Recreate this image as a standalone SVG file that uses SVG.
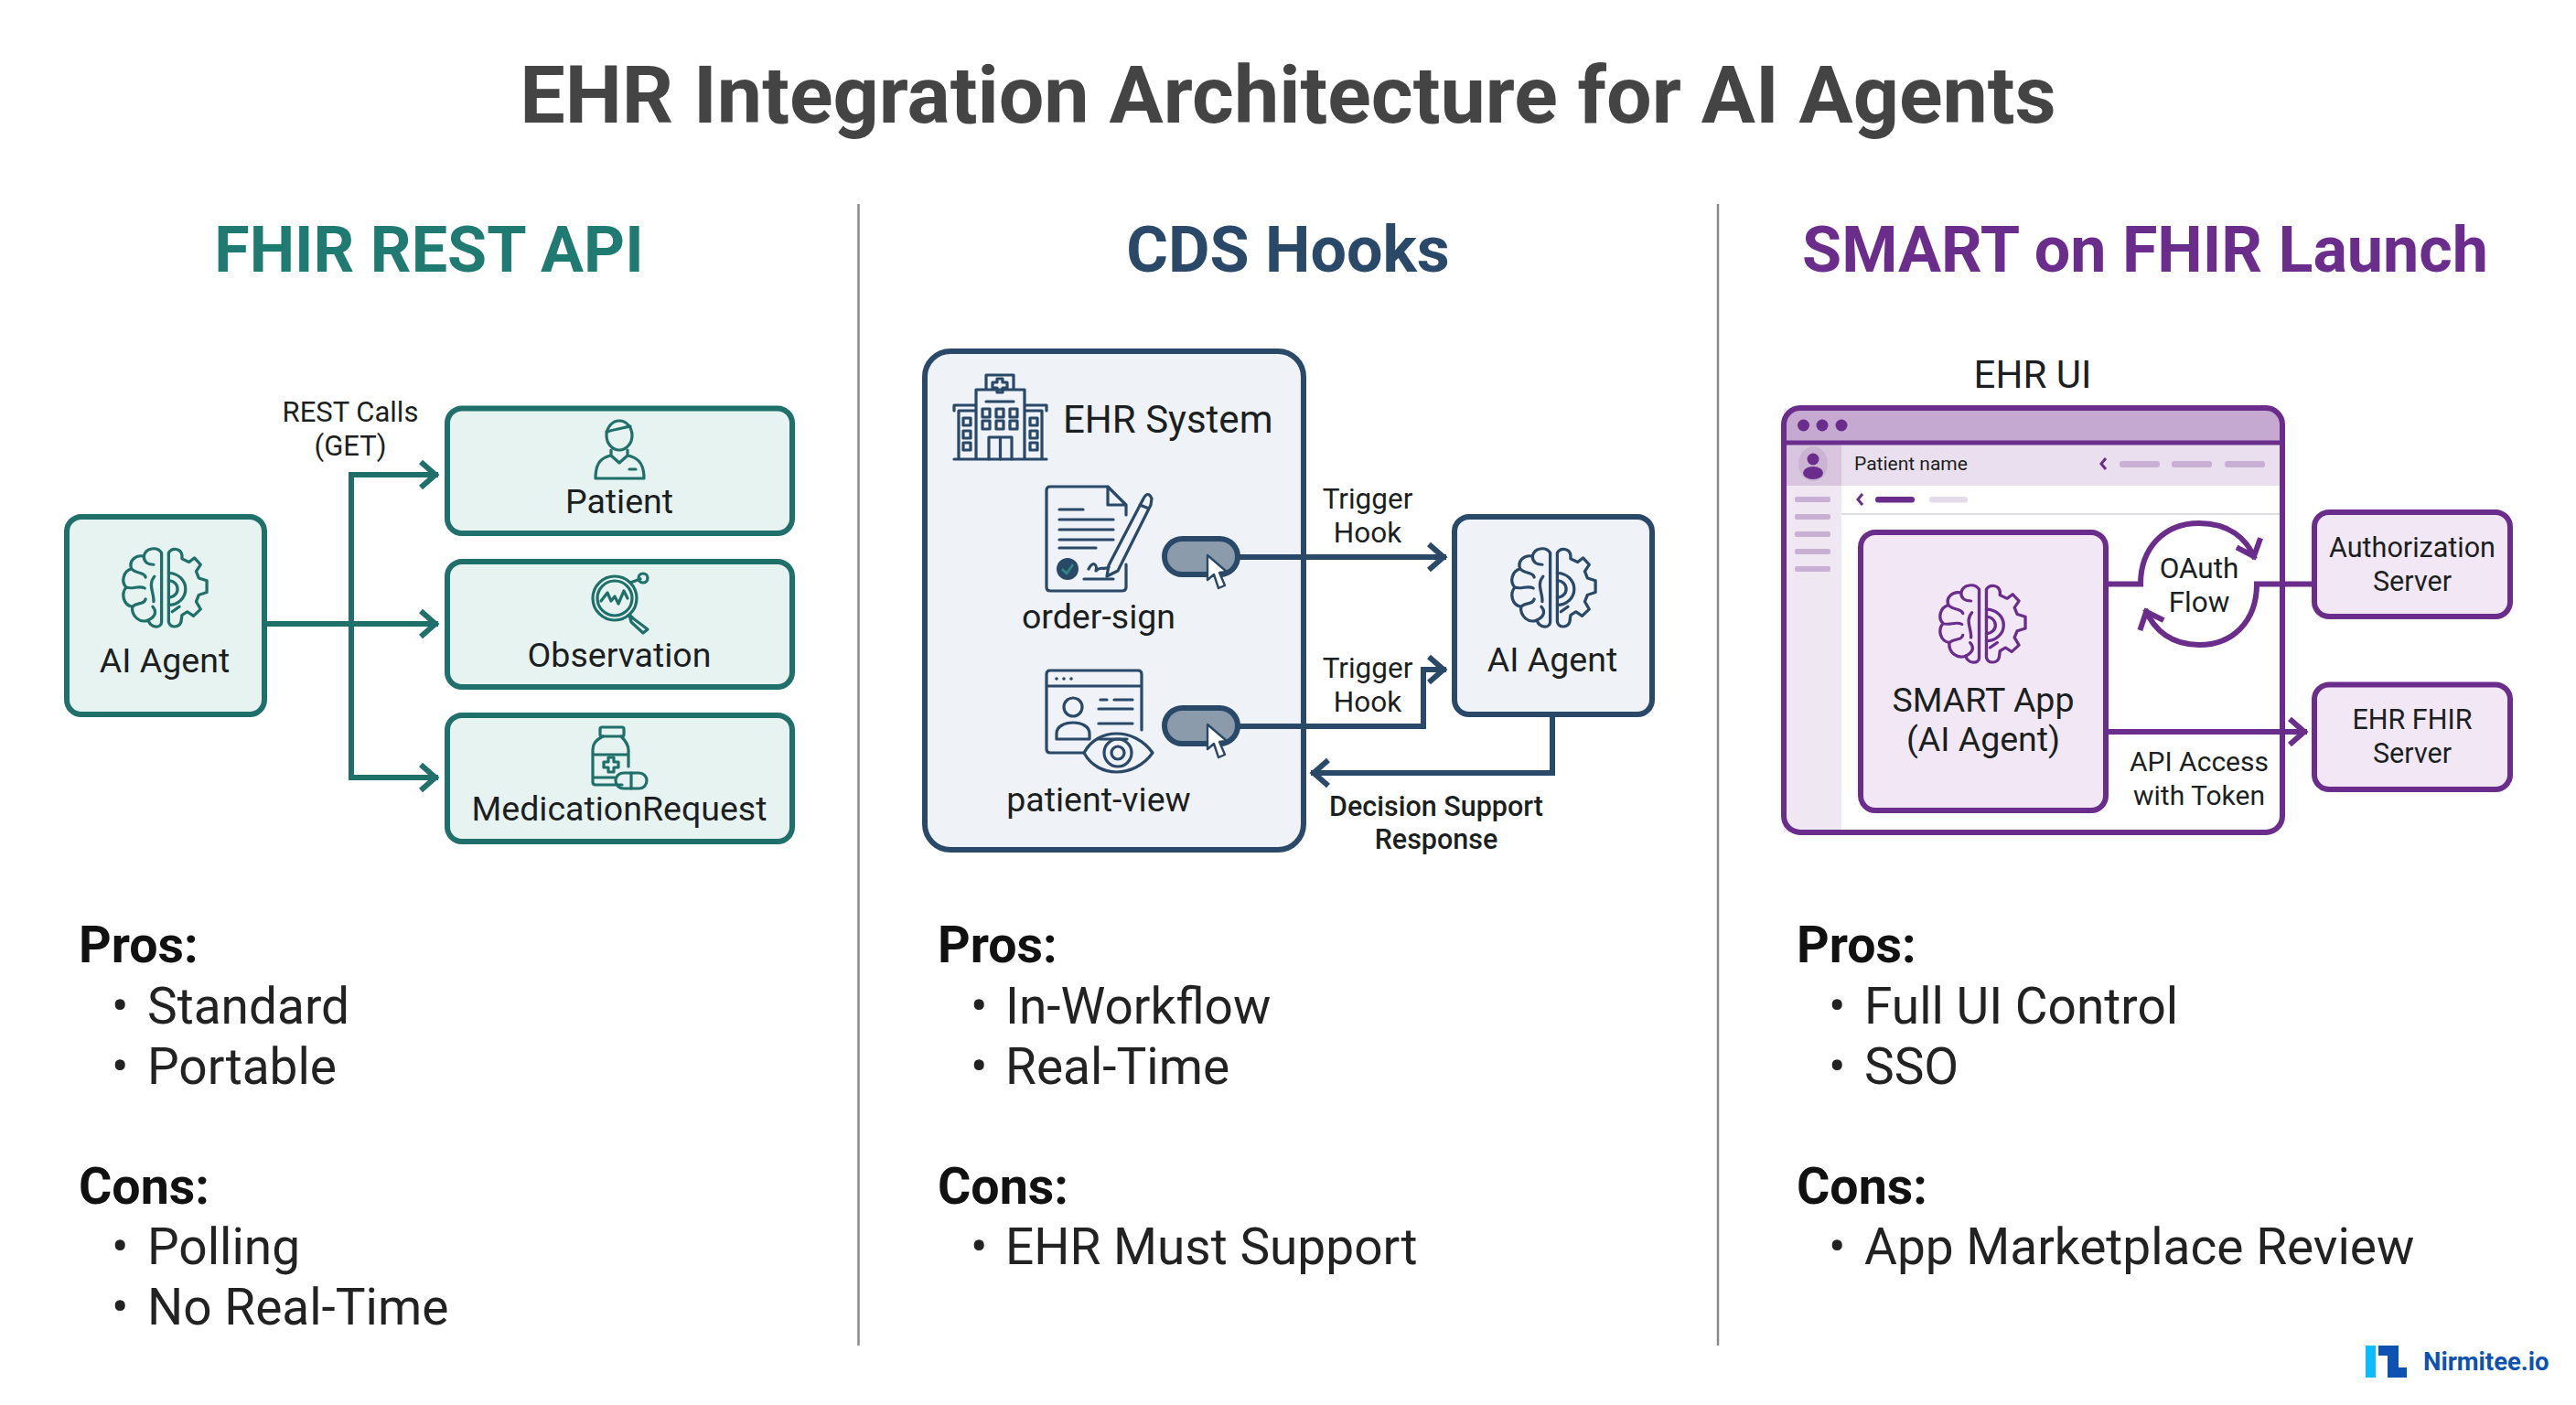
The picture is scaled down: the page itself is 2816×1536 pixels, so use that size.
<svg xmlns="http://www.w3.org/2000/svg" width="2816" height="1536" viewBox="0 0 2816 1536">
<style>
text{font-family:Roboto,"Liberation Sans",sans-serif;fill:#1c1f22}
.title{font-size:88px;font-weight:700;fill:#444;text-anchor:middle}
.head{font-size:70px;font-weight:700;text-anchor:middle}
.pc{font-size:55.500px;font-weight:700;fill:#111}
.li{font-size:55px;fill:#222}
.n{font-size:37.500px;text-anchor:middle}
.s{font-size:31.500px;text-anchor:middle}
.sb{font-size:30.500px;text-anchor:middle;font-weight:500}
.teal{fill:#e7f3f1;stroke:#1f6f6b;stroke-width:6}
.navy{fill:#eff2f6;stroke:#2a4868;stroke-width:6}
.pur{fill:#f2e8f5;stroke:#6b2d8b;stroke-width:6}
.ic{fill:none;stroke-width:3.2;stroke-linejoin:round;stroke-linecap:round}
.ct{fill:none;stroke:#1f6f6b;stroke-width:6;marker-end:url(#at)}
.cn{fill:none;stroke:#2a4868;stroke-width:6;marker-end:url(#an)}
.cp{fill:none;stroke:#6b2d8b;stroke-width:6;marker-end:url(#ap)}
</style>
<defs>
<marker id="at" markerUnits="userSpaceOnUse" markerWidth="40" markerHeight="44" refX="31" refY="22" orient="auto"><path d="M12,8 L28,22 L12,36" fill="none" stroke="#1f6f6b" stroke-width="6"/></marker>
<marker id="an" markerUnits="userSpaceOnUse" markerWidth="40" markerHeight="44" refX="31" refY="22" orient="auto"><path d="M12,8 L28,22 L12,36" fill="none" stroke="#2a4868" stroke-width="6"/></marker>
<marker id="ap" markerUnits="userSpaceOnUse" markerWidth="40" markerHeight="44" refX="31" refY="22" orient="auto"><path d="M12,8 L28,22 L12,36" fill="none" stroke="#6b2d8b" stroke-width="6"/></marker>
<symbol id="brain" viewBox="0 0 100 100" preserveAspectRatio="none" overflow="visible">
<g fill="none" stroke="currentColor" stroke-width="3.4" stroke-linejoin="round" stroke-linecap="round">
<path d="M46,8 C41,0 28,2 26,12 C16,10 9,18 12,27 C3,30 0,42 6,49 C0,57 3,70 13,72 C12,84 22,92 31,88 C34,98 46,98 46,90 Z"/>
<path d="M26,12 C26,20 32,22 37,22 M12,27 C18,34 26,30 28,37 M6,49 C14,52 20,46 27,50 M38,36 C30,46 38,56 37,66 M13,72 C20,66 26,70 28,63 M31,88 C39,84 41,78 36,72"/>
<path d="M54,8 C58,1 68,3 69,11 L69,15 L77,19 L83,14 L90,22 L85,30 L88,38 L97,41 L97,55 L88,58 L85,66 L90,75 L82,83 L75,78 L69,82 L68,90 C66,97 56,98 54,90 Z"/>
<path d="M54,32 A19,19 0 0 1 54,70 M54,41 A10,10 0 0 1 54,61 M58,78 L66,72"/>
</g></symbol>
<symbol id="cursor" viewBox="0 0 22 40" overflow="visible"><path d="M1,1 L1,28 L8,22 L13,37 L20,34 L14,20 L22,19 Z" fill="#fff" stroke="#2a4868" stroke-width="2.4" stroke-linejoin="round"/></symbol>
</defs>
<rect width="2816" height="1536" fill="#fff"/>
<text class="title" x="1408" y="134">EHR Integration Architecture for AI Agents</text>
<text class="head" x="469" y="297" style="fill:#1f7a72">FHIR REST API</text>
<text class="head" x="1408" y="297" style="fill:#2a4868">CDS Hooks</text>
<text class="head" x="2345" y="297" style="fill:#6b2d8b">SMART on FHIR Launch</text>
<g id="dividers" stroke="#8a8a8a" stroke-width="2.5"><line x1="938.500" y1="223" x2="938.500" y2="1471"/><line x1="1878" y1="223" x2="1878" y2="1471"/></g>

<g id="panel2-ehr-base"><rect class="navy" x="1011" y="384" width="414" height="545" rx="28"/></g>
<g id="panel3-window">
<rect x="1950" y="446" width="545" height="464" rx="18" fill="#fff"/>
<rect x="1950" y="446" width="63" height="464" fill="#efe7f2"/>
<path d="M1950,482 V464 a18,18 0 0 1 18,-18 H2477 a18,18 0 0 1 18,18 V482 Z" fill="#c5a9d0"/>
<rect x="1950" y="485" width="545" height="46" fill="#eadfee"/>
<rect x="1950" y="485" width="63" height="46" fill="#d8c6de"/>
<g fill="#6b2d8b"><circle cx="1971.500" cy="465" r="6.500"/><circle cx="1992" cy="465" r="6.500"/><circle cx="2013" cy="465" r="6.500"/></g>
<line x1="1950" y1="484" x2="2495" y2="484" stroke="#6b2d8b" stroke-width="5"/>
<ellipse cx="1982" cy="507" rx="16" ry="19" fill="#cbb3d4"/>
<circle cx="1982" cy="502" r="6.500" fill="#6b2d8b"/><ellipse cx="1982" cy="517" rx="11" ry="7" fill="#6b2d8b"/>
<text x="2027" y="514" style="font-size:21px">Patient name</text>
<path d="M2302,501 L2297,507 L2302,513 M2036,540 L2031,546 L2036,552" fill="none" stroke="#6b2d8b" stroke-width="3"/>
<g fill="#c9afd3"><rect x="2317" y="504" width="44" height="7" rx="3"/><rect x="2374" y="504" width="44" height="7" rx="3"/><rect x="2432" y="504" width="44" height="7" rx="3"/>
<rect x="1962" y="543" width="39" height="6" rx="2"/><rect x="1962" y="562" width="39" height="6" rx="2"/><rect x="1962" y="581" width="39" height="6" rx="2"/><rect x="1962" y="600" width="39" height="6" rx="2"/><rect x="1962" y="619" width="39" height="6" rx="2"/></g>
<rect x="2050" y="543" width="43" height="6.500" rx="3" fill="#6b2d8b"/><rect x="2109" y="543" width="42" height="6.500" rx="3" fill="#e4dbe8"/>
<line x1="2013" y1="562" x2="2495" y2="562" stroke="#dfdce2" stroke-width="2"/>
<rect x="1950" y="446" width="545" height="464" rx="18" fill="none" stroke="#6b2d8b" stroke-width="6"/>
<text x="2222" y="424" class="n" style="font-size:42px">EHR UI</text>
</g>

<g id="connectors">
<path class="ct" d="M290,682 H479"/>
<path class="ct" d="M384,682 V519 H479"/>
<path class="ct" d="M384,682 V850 H479"/>
<path class="cn" d="M1353,609 H1581"/>
<path class="cn" d="M1353,794 H1556 V732 H1581"/>
<path class="cn" d="M1697,781 V845 H1433"/>
<path class="cp" d="M2302,638.500 H2340 C2340,600 2365,572 2404,572 C2436,572 2456,588 2465,611"/>
<path class="cp" d="M2530,638.500 H2467 C2467,680 2440,705 2404,705 C2375,705 2355,690 2345,666"/>
<path class="cp" d="M2302,800 H2522"/>
</g>

<g id="fhir-ai-agent" color="#1f6f6b"><rect class="teal" x="73" y="565" width="216" height="216" rx="16"/><use href="#brain" x="132" y="597" width="97" height="92"/><text class="n" x="180" y="735">AI Agent</text></g>
<g id="fhir-patient" color="#1f6f6b"><rect class="teal" x="489" y="446.500" width="377" height="136.500" rx="16"/>
<g class="ic" stroke="currentColor"><ellipse cx="677" cy="476" rx="14" ry="16"/><path d="M663,472 C670,470 680,468 689,466 M668,492 L668,498 L677,506 L686,498 L686,492 M668,498 C658,500 651,505 651,523 H704 C704,505 696,500 686,498 M688,513 H695"/></g>
<text class="n" x="677" y="561">Patient</text></g>
<g id="fhir-observation" color="#1f6f6b"><rect class="teal" x="489" y="614" width="377" height="137" rx="16"/>
<g class="ic" stroke="currentColor"><circle cx="672" cy="654" r="24"/><circle cx="672" cy="654" r="19"/><path d="M657,657 L664,648 L668,657 L672,652 L676,660 L682,646 L686,654 M689,637 L700,633"/><circle cx="703" cy="632" r="5"/><path d="M688,672 L692,676 L708,688 L703,692 L690,680 Z"/></g>
<text class="n" x="677" y="729">Observation</text></g>
<g id="fhir-medicationrequest" color="#1f6f6b"><rect class="teal" x="489" y="782" width="377" height="138" rx="16"/>
<g class="ic" stroke="currentColor"><rect x="656" y="795" width="26" height="10" rx="2"/><path d="M659,805 C650,810 648,814 648,820 V855 Q648,858 651,858 H680 M687,838 V820 C687,814 684,810 679,805 M648,825 H687 M648,850 H672"/><path d="M665,828 h6 v5 h5 v6 h-5 v5 h-6 v-5 h-5 v-6 h5 Z"/><rect x="673" y="845" width="34" height="17" rx="8.500"/><line x1="690" y1="845" x2="690" y2="862"/></g>
<text class="n" x="677" y="897">MedicationRequest</text></g>
<text class="s" x="383" y="461" style="font-size:31px">REST Calls</text><text class="s" x="383" y="498" style="font-size:31px">(GET)</text>

<g id="cds-ehr-system" color="#2a4868">
<g class="ic" stroke="currentColor"><path d="M1043,502 H1144 M1048,502 V449 H1067 M1139,502 V449 H1120 M1043,449 V443 H1067 M1144,449 V443 H1120 M1067,502 V426 H1120 V502 M1078,426 V410 H1108 V426 M1078,439 H1108"/><path d="M1090,414 h6 v4 h5 v6 h-5 v5 h-6 v-5 h-5 v-6 h5 Z"/><path d="M1081,502 V478 H1106 V502 M1093.500,478 V502"/>
<rect x="1074" y="447" width="8" height="9"/><rect x="1089" y="447" width="8" height="9"/><rect x="1104" y="447" width="8" height="9"/><rect x="1074" y="460" width="8" height="9"/><rect x="1089" y="460" width="8" height="9"/><rect x="1104" y="460" width="8" height="9"/>
<rect x="1053" y="457" width="8" height="8"/><rect x="1053" y="471" width="8" height="8"/><rect x="1053" y="484" width="8" height="8"/><rect x="1126" y="457" width="8" height="8"/><rect x="1126" y="471" width="8" height="8"/><rect x="1126" y="484" width="8" height="8"/></g>
<text x="1162" y="473" style="font-size:42px">EHR System</text></g>
<g id="cds-order-sign" color="#2a4868">
<g class="ic" stroke="currentColor"><path d="M1211,532 H1148 Q1144,532 1144,536 V642 Q1144,646 1148,646 H1226 Q1231,646 1231,642 V617 M1211,532 L1231,552 V563 M1211,532 V552 H1231"/><path d="M1158,557 H1184 M1158,568 H1217 M1158,579 H1217 M1158,590 H1217 M1158,599 H1198 M1185,633 H1217"/><path d="M1212,618 L1250,545 Q1255,536 1259,545 L1258,552 L1222,624 L1210,630 Z M1246,552 L1256,556"/><path d="M1190,622 C1195,612 1200,618 1198,624 C1204,618 1206,624 1212,620"/></g>
<circle cx="1167" cy="622" r="12" fill="#2a4868"/><path d="M1161,622 L1166,627 L1173,617" fill="none" stroke="#2e8a86" stroke-width="2.500"/>
<text class="n" x="1201" y="687">order-sign</text></g>
<g id="cds-patient-view" color="#2a4868">
<g class="ic" stroke="currentColor"><path d="M1185,823 H1148 Q1144,823 1144,819 V737 Q1144,733 1148,733 H1244 Q1248,733 1248,737 V798 M1144,750 H1248 M1201,775 H1238 M1201,791 H1238 M1201,808 H1232"/><path d="M1203,765 H1210 M1218,765 H1238"/><circle cx="1173" cy="773" r="10"/><path d="M1155,802 C1155,786 1191,786 1191,802 V808 H1155 Z"/><path d="M1185,823 C1200,795 1240,795 1260,823 C1240,851 1200,851 1185,823 Z"/><circle cx="1222" cy="823" r="15"/><circle cx="1222" cy="823" r="7"/></g>
<g fill="#2a4868"><circle cx="1155" cy="742" r="1.800"/><circle cx="1163" cy="742" r="1.800"/><circle cx="1171" cy="742" r="1.800"/></g>
<text class="n" x="1201" y="887">patient-view</text></g>
<g id="cds-pill-1"><rect x="1273" y="589" width="80" height="39" rx="19.500" fill="#8c9bab" stroke="#2a4868" stroke-width="6"/><use href="#cursor" x="1319" y="606" width="22" height="40"/></g>
<g id="cds-pill-2"><rect x="1273" y="774" width="80" height="39" rx="19.500" fill="#8c9bab" stroke="#2a4868" stroke-width="6"/><use href="#cursor" x="1319" y="791" width="22" height="40"/></g>
<g id="cds-ai-agent" color="#2a4868"><rect class="navy" x="1590" y="565" width="216" height="216" rx="16"/><use href="#brain" x="1650" y="597" width="97" height="92"/><text class="n" x="1697" y="734">AI Agent</text></g>
<text class="s" x="1495" y="556">Trigger</text><text class="s" x="1495" y="593">Hook</text>
<text class="s" x="1495" y="741">Trigger</text><text class="s" x="1495" y="778">Hook</text>
<text class="sb" x="1570" y="892">Decision Support</text><text class="sb" x="1570" y="928">Response</text>

<g id="smart-app" color="#6b2d8b"><rect class="pur" x="2034" y="582" width="268" height="304" rx="16"/><use href="#brain" x="2118" y="637" width="99" height="91"/><text class="n" x="2168" y="778">SMART App</text><text class="n" x="2168" y="821">(AI Agent)</text></g>
<g id="smart-auth"><rect class="pur" x="2530" y="560" width="214" height="114" rx="16"/><text class="s" x="2637" y="609" style="font-size:30.500px">Authorization</text><text class="s" x="2637" y="646" style="font-size:30.500px">Server</text></g>
<g id="smart-fhir"><rect class="pur" x="2530" y="748.500" width="214" height="114.500" rx="16"/><text class="s" x="2637" y="797" style="font-size:30.500px">EHR FHIR</text><text class="s" x="2637" y="834" style="font-size:30.500px">Server</text></g>
<text class="s" x="2404" y="632">OAuth</text><text class="s" x="2404" y="669">Flow</text>
<text class="s" x="2404" y="843" style="font-size:30px">API Access</text><text class="s" x="2404" y="880" style="font-size:30px">with Token</text>

<g id="lists">
<text class="pc" x="86" y="1052">Pros:</text><text class="li" x="122" y="1119">•</text><text class="li" x="161" y="1119">Standard</text><text class="li" x="122" y="1185">•</text><text class="li" x="161" y="1185">Portable</text>
<text class="pc" x="86" y="1316">Cons:</text><text class="li" x="122" y="1382">•</text><text class="li" x="161" y="1382">Polling</text><text class="li" x="122" y="1448">•</text><text class="li" x="161" y="1448">No Real-Time</text>
<text class="pc" x="1025" y="1052">Pros:</text><text class="li" x="1061" y="1119">•</text><text class="li" x="1099" y="1119">In-Workflow</text><text class="li" x="1061" y="1185">•</text><text class="li" x="1099" y="1185">Real-Time</text>
<text class="pc" x="1025" y="1316">Cons:</text><text class="li" x="1061" y="1382">•</text><text class="li" x="1099" y="1382">EHR Must Support</text>
<text class="pc" x="1964" y="1052">Pros:</text><text class="li" x="1999" y="1119">•</text><text class="li" x="2038" y="1119">Full UI Control</text><text class="li" x="1999" y="1185">•</text><text class="li" x="2038" y="1185">SSO</text>
<text class="pc" x="1964" y="1316">Cons:</text><text class="li" x="1999" y="1382">•</text><text class="li" x="2038" y="1382">App Marketplace Review</text>
</g>
<g id="logo"><rect x="2586" y="1471" width="11" height="35" fill="#0bbcff"/><path d="M2600,1471 H2622 V1495 H2631 V1506 H2610 V1482 H2600 Z" fill="#0d52b0"/><text x="2649" y="1498" style="font-size:27.500px;font-weight:700;fill:#0d52b0">Nirmitee.io</text></g>
</svg>
